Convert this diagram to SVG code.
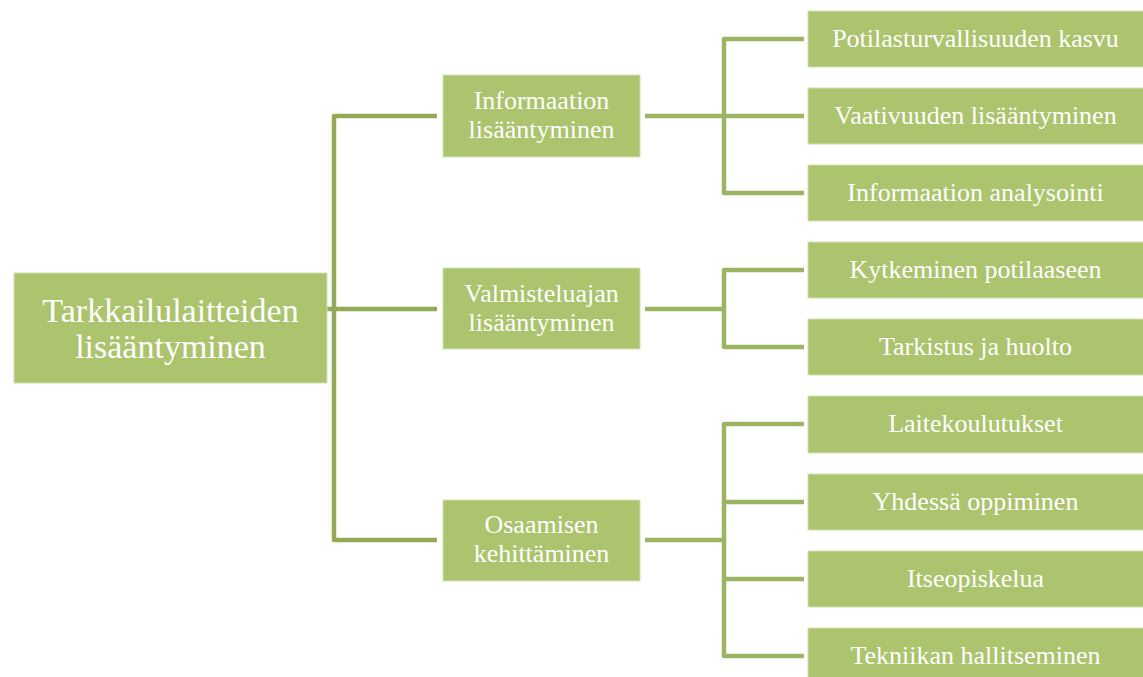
<svg xmlns="http://www.w3.org/2000/svg" width="1143" height="677" viewBox="0 0 1143 677">
<style>
.box{fill:#ABC46D;stroke:#D4E1B6;stroke-width:1}
.t{font-family:"Liberation Serif",serif;fill:#FFFFFF;text-anchor:middle}
.s26{font-size:26px}
.s34{font-size:34px}
.cl{fill:none;stroke:#93AB58;stroke-width:4.5;stroke-linejoin:round}
.cr{fill:none;stroke:#9DB562;stroke-width:4.5;stroke-linejoin:round}
</style>
<rect width="1143" height="677" fill="#FFFFFF"/>
<g id="connectors">
<path class="cl" d="M327 309 H437 M437 116 H334 V540 H437"/>
<path class="cr" d="M645 116 H724 M804 39 H724 V193 H804 M724 116 H804"/>
<path class="cr" d="M645 309 H724 M804 270 H724 V347 H804"/>
<path class="cr" d="M645 540 H724 M804 424 H724 V656 H804 M724 502 H804 M724 579 H804"/>
</g>
<g id="root"><rect class="box" x="14" y="273" width="313" height="110"/><text class="t s34" x="170.5" y="322">Tarkkailulaitteiden</text><text class="t s34" x="170.5" y="358">lisääntyminen</text></g>
<g id="info"><rect class="box" x="443" y="75" width="197" height="82"/><text class="t s26" x="541.5" y="109">Informaation</text><text class="t s26" x="541.5" y="138">lisääntyminen</text></g>
<g id="valm"><rect class="box" x="443" y="268" width="197" height="81"/><text class="t s26" x="541.5" y="302">Valmisteluajan</text><text class="t s26" x="541.5" y="331">lisääntyminen</text></g>
<g id="osaam"><rect class="box" x="443" y="500" width="197" height="81"/><text class="t s26" x="541.5" y="533">Osaamisen</text><text class="t s26" x="541.5" y="562">kehittäminen</text></g>
<g id="r1"><rect class="box" x="808" y="11" width="340" height="56"/><text class="t s26" x="975.5" y="47">Potilasturvallisuuden kasvu</text></g>
<g id="r2"><rect class="box" x="808" y="88" width="340" height="56"/><text class="t s26" x="975.5" y="124">Vaativuuden lisääntyminen</text></g>
<g id="r3"><rect class="box" x="808" y="165" width="340" height="56"/><text class="t s26" x="975.5" y="201">Informaation analysointi</text></g>
<g id="r4"><rect class="box" x="808" y="242" width="340" height="56"/><text class="t s26" x="975.5" y="278">Kytkeminen potilaaseen</text></g>
<g id="r5"><rect class="box" x="808" y="319" width="340" height="56"/><text class="t s26" x="975.5" y="355">Tarkistus ja huolto</text></g>
<g id="r6"><rect class="box" x="808" y="396" width="340" height="57"/><text class="t s26" x="975.5" y="432">Laitekoulutukset</text></g>
<g id="r7"><rect class="box" x="808" y="474" width="340" height="56"/><text class="t s26" x="975.5" y="510">Yhdessä oppiminen</text></g>
<g id="r8"><rect class="box" x="808" y="551" width="340" height="56"/><text class="t s26" x="975.5" y="587">Itseopiskelua</text></g>
<g id="r9"><rect class="box" x="808" y="628" width="340" height="56"/><text class="t s26" x="975.5" y="664">Tekniikan hallitseminen</text></g>
</svg>
